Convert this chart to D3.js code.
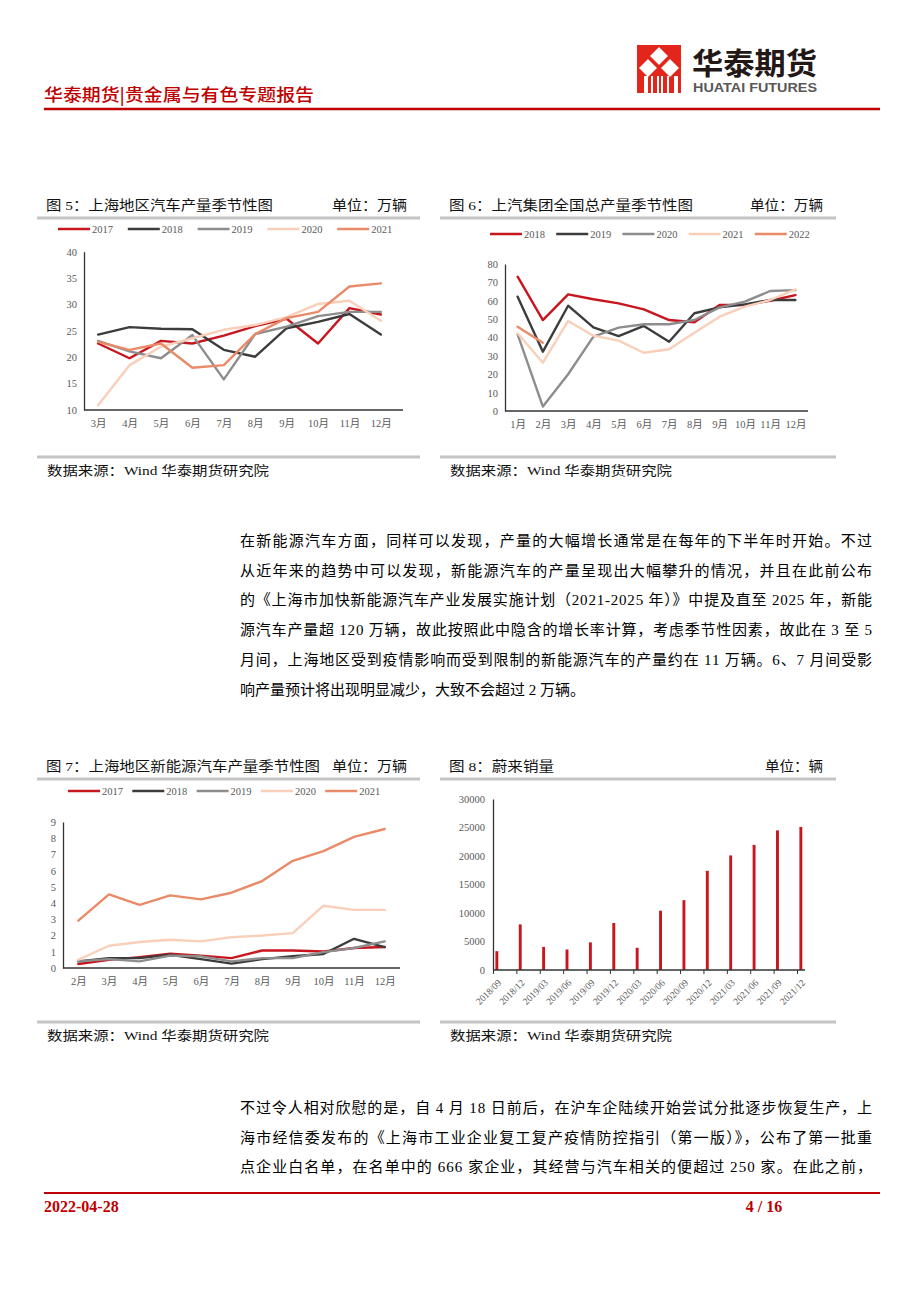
<!DOCTYPE html>
<html>
<head>
<meta charset="utf-8">
<script src="https://cdn.jsdelivr.net/npm/d3@7"></script>
<style>
body{margin:0;background:#fff}
svg{display:block}
</style>
</head>
<body>
<div id="page"></div>
<script>
// ---- data ----
const months5 = ["3月","4月","5月","6月","7月","8月","9月","10月","11月","12月"];
const years5 = ["2017","2018","2019","2020","2021"];
const sh2017 = [22.6,19.8,23.1,22.6,24.1,25.9,27.3,22.6,29.3,28.1];
const sh2018 = [24.3,25.7,25.4,25.3,21.4,20.1,25.5,26.7,28.2,24.3];
const sh2019 = [23.1,21.1,19.8,24.2,15.8,24.4,25.8,27.8,28.6,28.6];
const sh2020 = [10.9,18.5,22.0,23.6,25.2,26.1,27.6,30.1,30.7,26.9];
const sh2021 = [22.9,21.4,22.6,18.0,18.5,24.4,27.4,28.6,33.4,34.0];
const yTicks5 = [10,15,20,25,30,35,40];

const months6 = ["1月","2月","3月","4月","5月","6月","7月","8月","9月","10月","11月","12月"];
const years6 = ["2018","2019","2020","2021","2022"];
const saic2018 = [73.1,49.5,63.5,60.8,58.6,55.3,49.5,48.3,57.7,57.7,60.0,63.1];
const saic2019 = [62.2,32.3,57.3,45.5,40.8,46.3,37.7,53.2,56.4,58.0,60.4,60.4];
const saic2020 = [41.7,2.4,20.0,40.5,45.4,47.2,47.2,49.5,56.4,59.5,65.3,65.8];
const saic2021 = [42.3,26.3,49.0,41.0,38.3,31.7,33.6,42.6,51.3,56.8,60.4,66.2];
const saic2022 = [45.9,37.2];
const yTicks6 = [0,10,20,30,40,50,60,70,80];

const months7 = ["2月","3月","4月","5月","6月","7月","8月","9月","10月","11月","12月"];
const years7 = ["2017","2018","2019","2020","2021"];
const nev2017 = [0.25,0.50,0.67,0.88,0.76,0.61,1.08,1.08,1.02,1.23,1.29];
const nev2018 = [0.41,0.61,0.61,0.82,0.55,0.27,0.55,0.72,0.86,1.80,1.29];
const nev2019 = [0.41,0.55,0.41,0.76,0.72,0.41,0.61,0.61,0.98,1.23,1.64];
const nev2020 = [0.51,1.37,1.60,1.74,1.64,1.90,2.00,2.15,3.84,3.58,3.58];
const nev2021 = [2.92,4.54,3.89,4.48,4.23,4.64,5.36,6.61,7.20,8.08,8.57];
const yTicks7 = [0,1,2,3,4,5,6,7,8,9];

const quarters8 = ["2018/09","2018/12","2019/03","2019/06","2019/09","2019/12","2020/03",
                   "2020/06","2020/09","2020/12","2021/03","2021/06","2021/09","2021/12"];
const nioSales = [3300,8000,4050,3600,4850,8250,3900,10400,12250,17400,20100,21950,24500,25100];
const yTicks8 = [0,5000,10000,15000,20000,25000,30000];

const seriesColors = ["#c8161e","#3c3c3c","#8d8d8d","#f9cfba","#e98a68"];
const RED = "#c00000";
const LATIN_CJK = "'Liberation Serif','Noto Sans CJK SC',serif";

// ---- page ----
const svg = d3.select("#page").append("svg")
    .attr("width", 920)
    .attr("height", 1302)
    .style("background", "#fff");

// header logo
const logo = svg.append("g").attr("class", "logo");
logo.append("rect").attr("x", 637).attr("y", 45).attr("width", 44).attr("height", 48).attr("fill", "#e2261c");
[[659, 56], [648, 68], [670, 68]].forEach(([cx, cy]) => {
    logo.append("path")
        .attr("d", `M${cx},${cy-10}L${cx+10},${cy}L${cx},${cy+10}L${cx-10},${cy}Z`)
        .attr("fill", "#fff").attr("stroke", "#e2261c").attr("stroke-width", 1.5);
});
[[644,4],[651,2],[657,2],[661,2],[667,2],[674,4]].forEach(([x, w]) => {
    logo.append("rect").attr("x", x).attr("y", 76).attr("width", w).attr("height", 17).attr("fill", "#fff");
});
svg.append("text").attr("x", 692).attr("y", 74)
    .attr("textLength", 125).attr("lengthAdjust", "spacingAndGlyphs")
    .style("font-family", "'Noto Sans CJK SC',sans-serif").style("font-weight", 700)
    .style("font-size", "30px").attr("fill", "#231815").text("华泰期货");
svg.append("text").attr("x", 693).attr("y", 92)
    .attr("textLength", 124).attr("lengthAdjust", "spacingAndGlyphs")
    .style("font-family", "'Liberation Sans',Arial,sans-serif").style("font-weight", 700)
    .style("font-size", "12px").attr("fill", "#595757").text("HUATAI FUTURES");

svg.append("text").attr("x", 44).attr("y", 101)
    .attr("textLength", 270).attr("lengthAdjust", "spacingAndGlyphs")
    .style("font-family", "'Noto Sans CJK SC',sans-serif").style("font-weight", 500)
    .style("font-size", "17px").attr("fill", RED).text("华泰期货|贵金属与有色专题报告");
svg.append("line").attr("x1", 44).attr("x2", 880).attr("y1", 109).attr("y2", 109)
    .attr("stroke", RED).attr("stroke-width", 2.5);

// ---- helpers ----
function plainText(x, y, str, size, len, anchor) {
    const t = svg.append("text").attr("x", x).attr("y", y)
        .style("font-family", LATIN_CJK).style("font-size", size + "px")
        .attr("fill", "#111").attr("text-anchor", anchor || "start").text(str);
    if (len) t.attr("textLength", len).attr("lengthAdjust", "spacingAndGlyphs");
    return t;
}

function frame(left, right, titleY, title, titleLen, unit, unitX, unitLen, bottomY) {
    plainText(left + 9, titleY + 5, title, 13.5, titleLen);
    plainText(unitX, titleY + 5, unit, 13.5, unitLen);
    svg.append("line").attr("x1", left).attr("x2", right).attr("y1", titleY + 13).attr("y2", titleY + 13)
        .attr("stroke", "#c4c4c4").attr("stroke-width", 3);
    svg.append("line").attr("x1", left).attr("x2", right).attr("y1", bottomY).attr("y2", bottomY)
        .attr("stroke", "#c4c4c4").attr("stroke-width", 3);
    plainText(left + 10, bottomY + 18, "数据来源：Wind 华泰期货研究院", 13, 222);
}

function styleAxis(a) {
    a.select(".domain").attr("stroke", "#333").attr("stroke-width", 1.3);
    a.selectAll("text").style("font-family", LATIN_CJK).style("font-size", "10.5px").attr("fill", "#595959");
}

function legend(names, x0, step, y) {
    const lg = svg.append("g").attr("class", "legend");
    names.forEach((n, i) => {
        const x = x0 + i * step;
        lg.append("line").attr("x1", x).attr("x2", x + 32).attr("y1", y).attr("y2", y)
            .attr("stroke", seriesColors[i]).attr("stroke-width", 2.5);
        lg.append("text").attr("x", x + 34).attr("y", y + 3.6)
            .style("font-family", LATIN_CJK).style("font-size", "10.5px").attr("fill", "#595959").text(n);
    });
}

function lineChart(cfg) {
    const g = svg.append("g").attr("class", "chart");
    const x = d3.scalePoint().domain(cfg.cats).range(cfg.xRange).padding(cfg.pad);
    const y = d3.scaleLinear().domain(cfg.yDomain).range([cfg.yBottom, cfg.yTop]);

    const xa = g.append("g").attr("transform", `translate(0,${cfg.yBottom})`)
        .call(d3.axisBottom(x).tickSize(0).tickPadding(10));
    styleAxis(xa);
    xa.select(".domain").attr("d", `M${cfg.axisX[0]},0H${cfg.axisX[1]}`);

    const ya = g.append("g").attr("transform", `translate(${cfg.axisX[0]},0)`)
        .call(d3.axisLeft(y).tickValues(cfg.yTicks).tickSize(0).tickPadding(7));
    styleAxis(ya);

    const line = d3.line().x((d, i) => x(cfg.cats[i])).y(d => y(d));
    cfg.series.forEach((s, i) => {
        g.append("path").attr("d", line(s)).attr("fill", "none")
            .attr("stroke", seriesColors[i]).attr("stroke-width", 2.4)
            .attr("stroke-linejoin", "round").attr("stroke-linecap", "round");
    });
}

// ---- figure 5 ----
frame(37, 420, 205, "图 5：上海地区汽车产量季节性图", 227, "单位：万辆", 332, 75, 457);
legend(years5, 58, 69.8, 229);
lineChart({cats: months5, xRange: [84, 395], pad: 0.45, axisX: [84, 403],
    yDomain: [10, 40], yTop: 251.7, yBottom: 410, yTicks: yTicks5,
    series: [sh2017, sh2018, sh2019, sh2020, sh2021]});

// ---- figure 6 ----
frame(440, 836, 205, "图 6：上汽集团全国总产量季节性图", 244, "单位：万辆", 750, 73, 457);
legend(years6, 490, 66.2, 234);
lineChart({cats: months6, xRange: [505, 808], pad: 0.5, axisX: [505, 808],
    yDomain: [0, 80], yTop: 264, yBottom: 411, yTicks: yTicks6,
    series: [saic2018, saic2019, saic2020, saic2021, saic2022]});

// ---- figure 7 ----
frame(37, 420, 766, "图 7：上海地区新能源汽车产量季节性图", 274, "单位：万辆", 332, 75, 1022);
legend(years7, 68, 64.3, 791);
lineChart({cats: months7, xRange: [63, 400], pad: 0.5, axisX: [63, 400],
    yDomain: [0, 9], yTop: 822, yBottom: 968, yTicks: yTicks7,
    series: [nev2017, nev2018, nev2019, nev2020, nev2021]});

// ---- figure 8 ----
frame(440, 836, 766, "图 8：蔚来销量", 105, "单位：辆", 765, 58, 1022);
(function () {
    const g = svg.append("g").attr("class", "bars");
    const x = d3.scalePoint().domain(quarters8).range([493, 797]);
    const y = d3.scaleLinear().domain([0, 30000]).range([970, 799]);

    g.selectAll(".bar").data(nioSales).join("rect")
        .attr("class", "bar")
        .attr("x", (d, i) => x(quarters8[i]) + 2.4)
        .attr("width", 2.9)
        .attr("y", d => y(d))
        .attr("height", d => y(0) - y(d))
        .attr("fill", "#c8161e");

    const xa = g.append("g").attr("transform", "translate(0,970)")
        .call(d3.axisBottom(x).tickSize(4).tickSizeOuter(0));
    styleAxis(xa);
    xa.select(".domain").attr("d", "M493,0H805");
    xa.selectAll(".tick line").attr("stroke", "#333");
    xa.selectAll(".tick text")
        .attr("x", 0).attr("y", 0).attr("dy", "0.35em")
        .attr("transform", "translate(6,11) rotate(-45)")
        .style("text-anchor", "end").style("font-size", "9.5px");

    const ya = g.append("g").attr("transform", "translate(493,0)")
        .call(d3.axisLeft(y).tickValues(yTicks8).tickFormat(d3.format("d")).tickSize(0).tickPadding(8));
    styleAxis(ya);
})();

// ---- body text ----
const para1 = [
    "在新能源汽车方面，同样可以发现，产量的大幅增长通常是在每年的下半年时开始。不过",
    "从近年来的趋势中可以发现，新能源汽车的产量呈现出大幅攀升的情况，并且在此前公布",
    "的《上海市加快新能源汽车产业发展实施计划（2021-2025 年）》中提及直至 2025 年，新能",
    "源汽车产量超 120 万辆，故此按照此中隐含的增长率计算，考虑季节性因素，故此在 3 至 5",
    "月间，上海地区受到疫情影响而受到限制的新能源汽车的产量约在 11 万辆。6、7 月间受影",
    "响产量预计将出现明显减少，大致不会超过 2 万辆。"
];
const para2 = [
    "不过令人相对欣慰的是，自 4 月 18 日前后，在沪车企陆续开始尝试分批逐步恢复生产，上",
    "海市经信委发布的《上海市工业企业复工复产疫情防控指引（第一版）》，公布了第一批重",
    "点企业白名单，在名单中的 666 家企业，其经营与汽车相关的便超过 250 家。在此之前，"
];
function paragraph(lines, y0, lastJustified) {
    lines.forEach((s, i) => {
        const full = i < lines.length - 1 || lastJustified;
        const t = plainText(240, y0 + i * 29.7, s, 15, full ? 632 : null);
        t.attr("fill", "#000");
        if (full) t.attr("lengthAdjust", "spacing");
    });
}
paragraph(para1, 546, false);
paragraph(para2, 1113, true);

// ---- footer ----
svg.append("line").attr("x1", 44).attr("x2", 880).attr("y1", 1193).attr("y2", 1193)
    .attr("stroke", RED).attr("stroke-width", 2.2);
svg.append("text").attr("x", 44).attr("y", 1212)
    .style("font-family", "'Liberation Serif',serif").style("font-weight", 700)
    .style("font-size", "16px").attr("fill", RED).text("2022-04-28");
svg.append("text").attr("x", 764).attr("y", 1212).attr("text-anchor", "middle")
    .style("font-family", "'Liberation Serif',serif").style("font-weight", 700)
    .style("font-size", "16px").attr("fill", RED).text("4 / 16");
</script>
</body>
</html>
